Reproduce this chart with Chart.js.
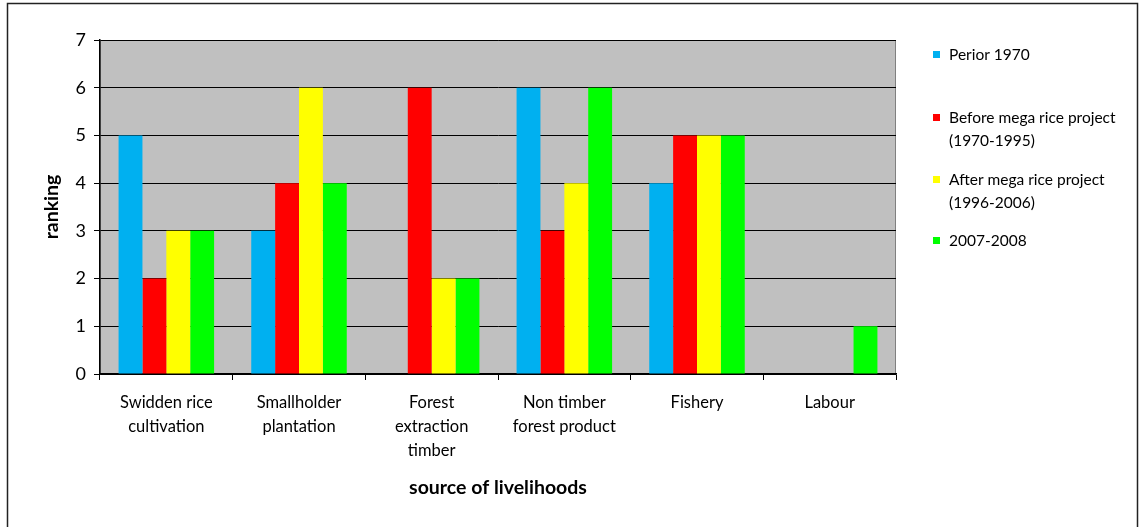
<!DOCTYPE html>
<html>
<head>
<meta charset="utf-8">
<script src="https://cdn.jsdelivr.net/npm/chart.js@4/dist/chart.umd.min.js"></script>
<style>
  html, body { margin: 0; padding: 0; background: #fff; }
  #wrap { width: 1143px; height: 527px; position: relative; }
</style>
</head>
<body>
<div id="wrap"><canvas id="rankChart" width="1143" height="527"></canvas></div>
<script>
// data
const categories = [
  ['Swidden rice', 'cultivation'],
  ['Smallholder', 'plantation'],
  ['Forest', 'extraction', 'timber'],
  ['Non timber', 'forest product'],
  'Fishery',
  'Labour'
];
const prior1970 = [5, 3, 0, 6, 4, 0];
const beforeMega = [2, 4, 6, 3, 5, 0];
const afterMega = [3, 6, 2, 4, 5, 0];
const recent = [3, 4, 2, 6, 5, 1];
const yTicks = [0, 1, 2, 3, 4, 5, 6, 7];

const seriesNames = [
  ['Perior 1970'],
  ['Before mega rice project', '(1970-1995)'],
  ['After mega rice project', '(1996-2006)'],
  ['2007-2008']
];
const legendRows = [55, 118, 180, 241];

const FONT = 'Lato, "Open Sans", sans-serif';

// background, plot area, frame and custom legend / titles
const decor = {
  id: 'decor',
  beforeDraw(chart) {
    const { ctx, chartArea: a } = chart;
    ctx.save();
    ctx.fillStyle = '#fff';
    ctx.fillRect(0, 0, chart.width, chart.height);
    ctx.fillStyle = '#C0C0C0';
    ctx.fillRect(a.left, a.top, a.right - a.left, a.bottom - a.top);
    ctx.strokeStyle = '#808080';
    ctx.lineWidth = 1;
    ctx.strokeRect(a.left + 0.5, a.top + 0.5, a.right - a.left - 1, a.bottom - a.top);
    // outer frame
    ctx.strokeStyle = '#222';
    ctx.lineWidth = 1.5;
    ctx.beginPath();
    ctx.moveTo(7.5, 530);
    ctx.lineTo(7.5, 3.5);
    ctx.lineTo(1137.5, 3.5);
    ctx.lineTo(1137.5, 530);
    ctx.stroke();
    ctx.restore();
  },
  afterDraw(chart) {
    const { ctx } = chart;
    ctx.save();
    // legend
    ctx.font = '15.5px ' + FONT;
    ctx.textBaseline = 'middle';
    chart.data.datasets.forEach((ds, i) => {
      const y = legendRows[i];
      ctx.fillStyle = ds.backgroundColor;
      ctx.fillRect(933, y - 4, 7, 7);
      ctx.fillStyle = '#000';
      seriesNames[i].forEach((line, j) => {
        ctx.fillText(line, 949, y + j * 23);
      });
    });
    // axis titles
    ctx.font = 'bold 19.5px ' + FONT;
    ctx.textAlign = 'center';
    ctx.fillText('source of livelihoods', 498, 488);
    ctx.translate(52, 207);
    ctx.rotate(-Math.PI / 2);
    ctx.fillText('ranking', 0, 0);
    ctx.restore();
  }
};

const ctx = document.getElementById('rankChart').getContext('2d');
const rankChart = new Chart(ctx, {
  type: 'bar',
  data: {
    labels: categories,
    datasets: [
      { label: 'Perior 1970', data: prior1970, backgroundColor: '#00B0F0' },
      { label: 'Before mega rice project (1970-1995)', data: beforeMega, backgroundColor: '#FF0000' },
      { label: 'After mega rice project (1996-2006)', data: afterMega, backgroundColor: '#FFFF00' },
      { label: '2007-2008', data: recent, backgroundColor: '#00FF00' }
    ]
  },
  options: {
    responsive: false,
    animation: false,
    layout: { padding: { left: 0, top: 40, right: 247, bottom: 0 } },
    datasets: { bar: { categoryPercentage: 0.72, barPercentage: 1.0, borderWidth: 0 } },
    plugins: {
      legend: { display: false },
      tooltip: { enabled: false }
    },
    scales: {
      x: {
        afterFit(scale) { scale.height = 153; },
        grid: {
          offset: true,
          drawOnChartArea: false,
          drawTicks: true,
          tickLength: 6,
          color: '#000'
        },
        border: { color: '#000', width: 1.5 },
        ticks: {
          color: '#000',
          font: { family: FONT, size: 16.5, lineHeight: 1.45 },
          maxRotation: 0,
          autoSkip: false,
          padding: 11
        }
      },
      y: {
        min: 0,
        max: 7,
        afterFit(scale) { scale.width = 100; },
        afterBuildTicks(scale) { scale.ticks = yTicks.map(v => ({ value: v })); },
        grid: { color: '#000', lineWidth: 1, tickLength: 6 },
        border: { color: '#000', width: 1.5 },
        ticks: {
          color: '#000',
          font: { family: FONT, size: 18 },
          padding: 8
        }
      }
    }
  },
  plugins: [decor]
});
</script>
</body>
</html>
